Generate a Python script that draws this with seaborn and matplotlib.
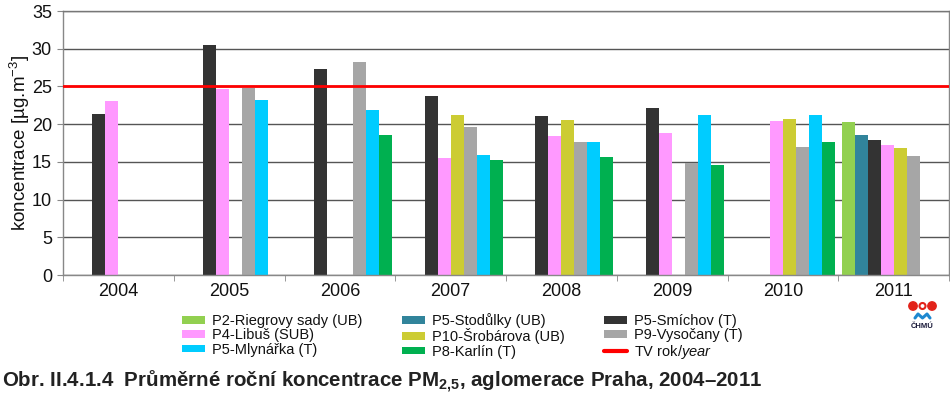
import numpy as np
import pandas as pd
import matplotlib
matplotlib.use("Agg")
import matplotlib.pyplot as plt
import seaborn as sns
from matplotlib.patches import Patch, Circle
from matplotlib.lines import Line2D

# Annual mean PM2.5 concentrations [ug/m3], Praha agglomeration
years = ['2004', '2005', '2006', '2007', '2008', '2009', '2010', '2011']
nan = np.nan
p2_riegrovy = [nan, nan, nan, nan, nan, nan, nan, 20.3]
p5_stodulky = [nan, nan, nan, nan, nan, nan, nan, 18.5]
p5_smichov = [21.4, 30.5, 27.3, 23.7, 21.1, 22.1, nan, 17.9]
p4_libus = [23.1, 24.6, nan, 15.5, 18.4, 18.8, 20.4, 17.3]
p10_srobarova = [nan, nan, nan, 21.2, 20.5, nan, 20.7, 16.9]
p9_vysocany = [nan, 24.8, 28.3, 19.6, 17.6, 14.9, 17.0, 15.8]
p5_mlynarka = [nan, 23.2, 21.9, 15.9, 17.6, 21.2, 21.2, nan]
p8_karlin = [nan, nan, 18.5, 15.3, 15.7, 14.6, 17.6, nan]
tv_limit = 25

stations = ['P2-Riegrovy sady (UB)', 'P5-Stodůlky (UB)', 'P5-Smíchov (T)', 'P4-Libuš (SUB)',
            'P10-Šrobárova (UB)', 'P9-Vysočany (T)', 'P5-Mlynářka (T)', 'P8-Karlín (T)']
series = [p2_riegrovy, p5_stodulky, p5_smichov, p4_libus,
          p10_srobarova, p9_vysocany, p5_mlynarka, p8_karlin]
colors = ['#92D050', '#31849B', '#333333', '#FF99FF',
          '#CCCC33', '#A6A6A6', '#00CCFF', '#00B050']
palette = dict(zip(stations, colors))

rows = []
for name, vals in zip(stations, series):
    for yr, v in zip(years, vals):
        rows.append({'rok': yr, 'stanice': name, 'konc': v})
df = pd.DataFrame(rows)

sns.set_style("white")
plt.rcParams['font.family'] = ['Liberation Sans', 'DejaVu Sans']
plt.rcParams['mathtext.fontset'] = 'custom'
plt.rcParams['mathtext.rm'] = 'Liberation Sans'
plt.rcParams['mathtext.it'] = 'Liberation Sans:italic'
plt.rcParams['mathtext.bf'] = 'Liberation Sans:bold'

fig = plt.figure(figsize=(9.5, 3.94), dpi=100)
ax = fig.add_axes([63 / 950, 1 - 275 / 394, 886 / 950, 264 / 394])

sns.barplot(data=df, x='rok', y='konc', hue='stanice', order=years, hue_order=stations,
            palette=palette, width=0.94, errorbar=None, saturation=1, linewidth=0,
            legend=False, ax=ax, zorder=2)

ax.axhline(tv_limit, color='#FF0000', lw=2.0, zorder=3)

ax.set_ylim(0, 35)
ax.set_xlim(-0.5, len(years) - 0.5)
ax.set_yticks(range(0, 36, 5))
ax.yaxis.grid(True, color='#555555', lw=1, zorder=0)
ax.set_axisbelow(True)
for s in ax.spines.values():
    s.set_color('#888888')
    s.set_linewidth(1)
ax.spines['top'].set_color('#777777')

ax.set_xticks(np.arange(-0.5, len(years), 1), minor=True)
ax.tick_params(axis='x', which='minor', length=4, color='#888888', direction='out', bottom=True)
ax.tick_params(axis='x', which='major', length=0, pad=6, labelsize=13, labelcolor='#111111')
ax.tick_params(axis='y', length=4, color='#888888', direction='out', left=True, pad=4,
               labelsize=13, labelcolor='#111111')
ax.set_xlabel('')
ax.set_ylabel('koncentrace [µg.m$^{\\mathrm{-3}}$]', fontsize=13.5, color='#111111', labelpad=0)

# legend
handles = [Patch(facecolor=palette[s], edgecolor='none') for s in stations]
h = dict(zip(stations, handles))
order = ['P2-Riegrovy sady (UB)', 'P4-Libuš (SUB)', 'P5-Mlynářka (T)',
         'P5-Stodůlky (UB)', 'P10-Šrobárova (UB)', 'P8-Karlín (T)',
         'P5-Smíchov (T)', 'P9-Vysočany (T)']
leg_handles = [h[s] for s in order] + [Line2D([], [], color='#FF0000', lw=3)]
leg_labels = order + ['TV rok/$\\mathit{year}$']
fig.legend(leg_handles, leg_labels, ncol=3, loc='upper left',
           bbox_to_anchor=(182 / 950, 1 - 313 / 394), frameon=False,
           fontsize=10.5, handlelength=1.58, handleheight=0.42, handletextpad=0.5,
           columnspacing=2.67, labelspacing=0.03, borderpad=0, borderaxespad=0,
           labelcolor='#111111')

# caption
fig.text(2 / 950, 1 - 382 / 394,
         'Obr. II.4.1.4  Průměrné roční koncentrace PM$_{\\mathbf{2{,}5}}$, aglomerace Praha, 2004–2011',
         fontsize=14.8, fontweight='bold', va='center', ha='left', color='#222222')

# CHMU logo
lax = fig.add_axes([906 / 950, 1 - 334 / 394, 33 / 950, 34 / 394])
lax.set_xlim(0, 33)
lax.set_ylim(0, 34)
lax.axis('off')
lax.add_patch(Circle((7, 28), 4.2, color='#E2231A'))
lax.add_patch(Circle((16.5, 28), 3.0, fill=False, ec='#E2231A', lw=1.5))
lax.add_patch(Circle((26, 28), 4.2, color='#E2231A'))
lax.plot([9, 12, 16.5, 21, 24], [16, 20, 16, 20, 16], color='#1E88D0', lw=2.2)
lax.text(16.5, 7, 'ČHMÚ', ha='center', va='center', fontsize=5.5, fontweight='bold',
         color='#1a1a3a')

fig.savefig('out.png', dpi=100)
